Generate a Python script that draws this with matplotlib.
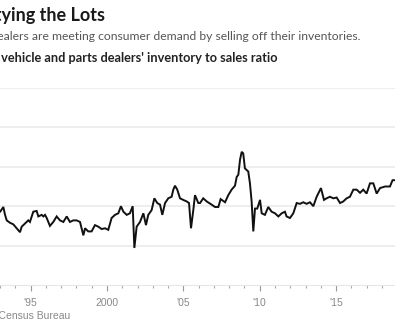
import matplotlib
matplotlib.use("Agg")
import matplotlib.pyplot as plt
from matplotlib.ticker import MultipleLocator

# inventory to sales ratio
years = [1992.9, 1993.0, 1993.21, 1993.32, 1993.43, 1993.64, 1993.86, 1994.08, 1994.30, 1994.41,
         1994.63, 1994.84, 1994.95, 1995.17, 1995.39, 1995.50, 1995.72, 1995.83, 1995.94, 1996.05,
         1996.26, 1996.48, 1996.70, 1996.92, 1997.14, 1997.36, 1997.57, 1997.79, 1998.01, 1998.23,
         1998.45, 1998.56, 1998.77, 1998.99, 1999.21, 1999.43, 1999.65, 1999.87, 2000.08, 2000.30,
         2000.52, 2000.74, 2000.91, 2001.07, 2001.29, 2001.50, 2001.68, 2001.79, 2001.94, 2002.16,
         2002.38, 2002.55, 2002.70, 2002.92, 2003.10, 2003.29, 2003.47, 2003.62, 2003.80, 2004.01,
         2004.23, 2004.34, 2004.45, 2004.60, 2004.78, 2004.99, 2005.22, 2005.37, 2005.50, 2005.65,
         2005.76, 2005.98, 2006.09, 2006.30, 2006.53, 2006.85, 2007.07, 2007.29, 2007.44, 2007.73,
         2007.94, 2008.16, 2008.38, 2008.49, 2008.60, 2008.71, 2008.82, 2008.92, 2009.03, 2009.25,
         2009.36, 2009.47, 2009.58, 2009.69, 2009.84, 2010.02, 2010.13, 2010.34, 2010.56, 2010.78,
         2011.00, 2011.22, 2011.44, 2011.65, 2011.76, 2011.98, 2012.20, 2012.42, 2012.64, 2012.85,
         2013.07, 2013.29, 2013.51, 2013.73, 2014.01, 2014.21, 2014.38, 2014.60, 2014.82, 2015.04,
         2015.26, 2015.47, 2015.69, 2015.91, 2016.13, 2016.35, 2016.57, 2016.78, 2017.00, 2017.22,
         2017.44, 2017.66, 2017.88, 2018.21, 2018.53, 2018.70, 2018.86]
ratio = [1.93, 1.93, 1.99, 1.89, 1.82, 1.79, 1.77, 1.72, 1.67, 1.74,
         1.78, 1.82, 1.80, 1.93, 1.94, 1.87, 1.89, 1.87, 1.89, 1.85,
         1.75, 1.80, 1.87, 1.82, 1.80, 1.87, 1.80, 1.82, 1.82, 1.80,
         1.63, 1.72, 1.68, 1.68, 1.76, 1.74, 1.71, 1.72, 1.70, 1.85,
         1.89, 1.91, 2.00, 1.93, 1.89, 1.91, 2.00, 1.47, 1.74, 1.80,
         1.91, 1.76, 1.89, 1.95, 2.10, 2.04, 2.02, 1.89, 2.04, 2.10,
         2.12, 2.21, 2.26, 2.21, 2.10, 2.08, 2.06, 2.04, 1.72, 1.95,
         2.14, 2.04, 2.04, 2.10, 2.06, 2.02, 1.99, 1.99, 2.09, 2.05,
         2.14, 2.21, 2.26, 2.37, 2.40, 2.59, 2.69, 2.67, 2.48, 2.44,
         2.29, 2.06, 1.68, 1.97, 1.97, 2.08, 1.91, 1.89, 1.99, 1.93,
         1.91, 1.87, 1.91, 1.93, 1.87, 1.85, 1.91, 2.04, 2.03, 2.05,
         2.03, 2.05, 2.00, 2.12, 2.23, 2.08, 2.10, 2.12, 2.10, 2.11,
         2.04, 2.06, 2.10, 2.12, 2.21, 2.21, 2.17, 2.21, 2.16, 2.29,
         2.29, 2.16, 2.23, 2.25, 2.25, 2.33, 2.33]

major_ticks = [1995, 2000, 2005, 2010, 2015]
major_labels = ["'95", "2000", "'05", "'10", "'15"]

W, H = 395, 330
fig = plt.figure(figsize=(W / 100, H / 100), dpi=100)

# the chart is cut off at the left, so the axes run right to the edges
ax = fig.add_axes([0, (H - 285) / H, 1, 197 / H])
ax.plot(years, ratio, color="#111111", lw=1.4, solid_joinstyle="miter")
ax.set_xlim(1992.99, 2018.86)
ax.set_ylim(1.0, 3.5)
ax.set_yticks([1.5, 2.0, 2.5, 3.0, 3.5])
ax.yaxis.grid(True, color="#ebebeb", lw=1.2)
ax.set_axisbelow(True)
ax.tick_params(axis="y", left=False, labelleft=False)
for s in ["left", "right", "top"]:
    ax.spines[s].set_visible(False)
ax.spines["bottom"].set_color("#e6e6e6")
ax.spines["bottom"].set_linewidth(0.8)

ax.set_xticks(major_ticks)
ax.set_xticklabels(major_labels, fontsize=7.5, color="#888888", family="Liberation Sans")
ax.xaxis.set_minor_locator(MultipleLocator(1))
ax.tick_params(axis="x", which="major", length=4, width=0.8, color="#999999", pad=5)
ax.tick_params(axis="x", which="minor", length=2.5, width=0.8, color="#aaaaaa")

def px(x, y):
    return x / W, 1 - y / H

fig.text(*px(105, 21), "Emptying the Lots", ha="right", va="baseline",
         fontsize=13, fontweight="bold", color="#1a1a1a", family="Lato")
fig.text(*px(361, 39.5), "Dealers are meeting consumer demand by selling off their inventories.",
         ha="right", va="baseline", fontsize=8.75, color="#555555", family="Lato")
fig.text(*px(277, 62), "Motor vehicle and parts dealers' inventory to sales ratio",
         ha="right", va="baseline", fontsize=9.2, fontweight="bold", color="#222222", family="Lato")
fig.text(*px(70, 319), "Source: U.S. Census Bureau", ha="right", va="baseline",
         fontsize=7.5, color="#888888", family="Liberation Sans")

fig.savefig("out.png", dpi=100)
